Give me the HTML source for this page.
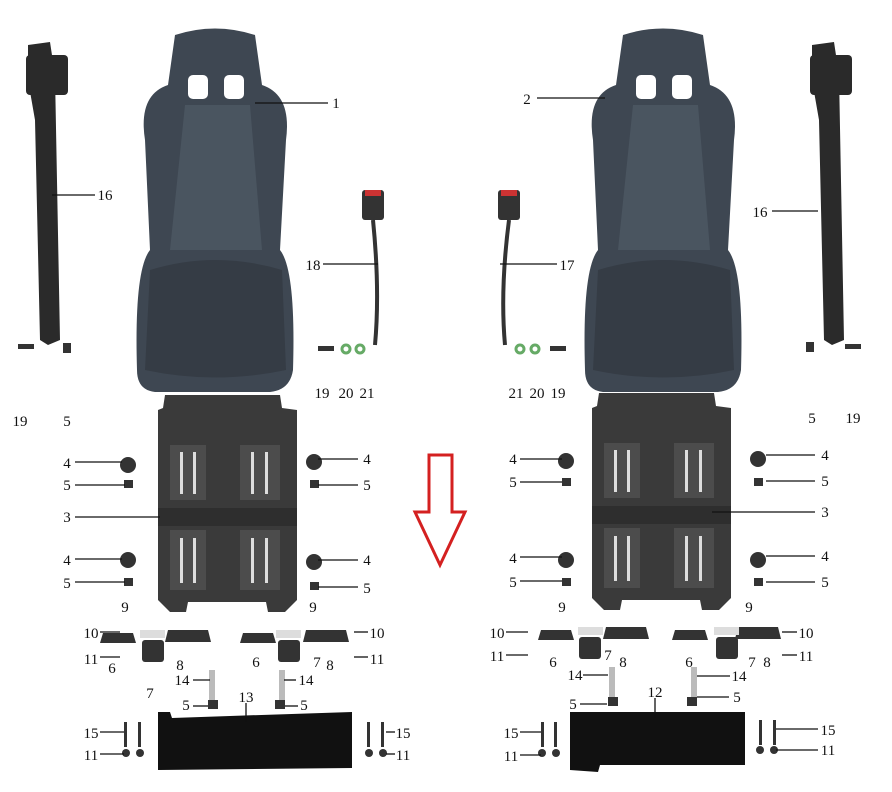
<!DOCTYPE html>
<html><head><meta charset="utf-8"><style>
html,body{margin:0;padding:0;background:#fff;width:892px;height:792px;overflow:hidden}
svg text{font-family:"Liberation Serif",serif;font-size:15px;fill:#111;text-anchor:middle}
</style></head><body>
<svg width="892" height="792" viewBox="0 0 892 792" xmlns="http://www.w3.org/2000/svg">
<defs>
<g id="seat">
<path d="M175,35 Q215,22 255,35 L262,85 Q292,95 286,140 L280,250 Q296,270 293,370 Q290,390 270,392 L155,392 Q137,390 137,370 Q134,270 150,250 L145,140 Q138,95 168,85 Z" fill="#3e4752"/>
<path d="M185,105 L250,105 L262,250 L170,250 Z" fill="#4a5560"/>
<path d="M150,270 Q215,250 282,270 L286,370 Q215,385 145,370 Z" fill="#353c45"/>
<rect x="188" y="75" width="20" height="24" rx="5" fill="#fff"/>
<rect x="224" y="75" width="20" height="24" rx="5" fill="#fff"/>
</g>
<g id="plate">
<path d="M165,395 L280,395 L282,408 L297,410 L297,600 L285,612 L268,612 L266,602 L188,602 L186,612 L170,612 L158,600 L158,410 L163,408 Z" fill="#3a3a3a"/>
<rect x="170" y="445" width="36" height="55" fill="#4c4c4c"/><rect x="180" y="452" width="3" height="42" fill="#ddd"/><rect x="193" y="452" width="3" height="42" fill="#ddd"/>
<rect x="240" y="445" width="40" height="55" fill="#4c4c4c"/><rect x="251" y="452" width="3" height="42" fill="#ddd"/><rect x="265" y="452" width="3" height="42" fill="#ddd"/>
<rect x="170" y="530" width="36" height="60" fill="#4c4c4c"/><rect x="180" y="538" width="3" height="45" fill="#ddd"/><rect x="193" y="538" width="3" height="45" fill="#ddd"/>
<rect x="240" y="530" width="40" height="60" fill="#4c4c4c"/><rect x="251" y="538" width="3" height="45" fill="#ddd"/><rect x="265" y="538" width="3" height="45" fill="#ddd"/>
<rect x="158" y="508" width="139" height="18" fill="#2e2e2e"/>
</g>
<g id="belt">
<path d="M28,45 L50,42 L55,75 L60,340 L48,345 L40,340 L35,120 L28,80 Z" fill="#2a2a2a"/>
<rect x="26" y="55" width="42" height="40" rx="4" fill="#2a2a2a"/>
</g>
</defs>
<use href="#seat"/>
<use href="#seat" transform="translate(448,0)"/>
<use href="#plate"/>
<use href="#plate" transform="translate(434,-2)"/>
<use href="#belt"/>
<use href="#belt" transform="translate(784,0)"/>
<rect x="362" y="190" width="22" height="30" rx="3" fill="#333"/><rect x="365" y="190" width="16" height="6" fill="#c33"/>
<path d="M373,220 Q380,290 375,345" stroke="#333" stroke-width="4" fill="none"/>
<rect x="498" y="190" width="22" height="30" rx="3" fill="#333"/><rect x="501" y="190" width="16" height="6" fill="#c33"/>
<path d="M509,220 Q500,290 505,345" stroke="#333" stroke-width="4" fill="none"/>
<path d="M429,455 L452,455 L452,512 L465,512 L440,565 L415,512 L429,512 Z" fill="none" stroke="#d42020" stroke-width="3"/>
<path d="M158,712 L170,712 L172,718 L230,716 L352,712 L352,768 L158,770 Z" fill="#111"/>
<path d="M570,712 L745,712 L745,765 L600,765 L598,772 L570,770 Z" fill="#111"/>
<g fill="#333">
<circle cx="128" cy="465" r="8"/><circle cx="128" cy="560" r="8"/><circle cx="314" cy="462" r="8"/><circle cx="314" cy="562" r="8"/>
<circle cx="566" cy="461" r="8"/><circle cx="566" cy="560" r="8"/><circle cx="758" cy="459" r="8"/><circle cx="758" cy="560" r="8"/>
<rect x="124" y="480" width="9" height="8"/><rect x="310" y="480" width="9" height="8"/><rect x="562" y="478" width="9" height="8"/><rect x="754" y="478" width="9" height="8"/>
<rect x="124" y="578" width="9" height="8"/><rect x="310" y="582" width="9" height="8"/><rect x="562" y="578" width="9" height="8"/><rect x="754" y="578" width="9" height="8"/>
<path d="M103,633 h30 l3,10 h-36 Z"/><path d="M168,630 h40 l3,12 h-46 Z"/><path d="M243,633 h30 l3,10 h-36 Z"/><path d="M306,630 h40 l3,12 h-46 Z"/>
<path d="M541,630 h30 l3,10 h-36 Z"/><path d="M606,627 h40 l3,12 h-46 Z"/><path d="M675,630 h30 l3,10 h-36 Z"/><path d="M738,627 h40 l3,12 h-46 Z"/>
<rect x="142" y="640" width="22" height="22" rx="3"/><rect x="278" y="640" width="22" height="22" rx="3"/>
<rect x="579" y="637" width="22" height="22" rx="3"/><rect x="716" y="637" width="22" height="22" rx="3"/>
<rect x="208" y="700" width="10" height="9"/><rect x="275" y="700" width="10" height="9"/><rect x="608" y="697" width="10" height="9"/><rect x="687" y="697" width="10" height="9"/>
<rect x="124" y="722" width="3" height="25"/><rect x="138" y="722" width="3" height="25"/><rect x="367" y="722" width="3" height="25"/><rect x="381" y="722" width="3" height="25"/>
<circle cx="126" cy="753" r="4"/><circle cx="140" cy="753" r="4"/><circle cx="369" cy="753" r="4"/><circle cx="383" cy="753" r="4"/>
<rect x="541" y="722" width="3" height="25"/><rect x="554" y="722" width="3" height="25"/><rect x="759" y="720" width="3" height="25"/><rect x="773" y="720" width="3" height="25"/>
<circle cx="542" cy="753" r="4"/><circle cx="556" cy="753" r="4"/><circle cx="760" cy="750" r="4"/><circle cx="774" cy="750" r="4"/>
<rect x="18" y="344" width="16" height="5"/><rect x="63" y="343" width="8" height="10"/><rect x="318" y="346" width="16" height="5"/>
<rect x="806" y="342" width="8" height="10"/><rect x="845" y="344" width="16" height="5"/><rect x="550" y="346" width="16" height="5"/>
</g>
<g fill="none" stroke="#6a6" stroke-width="3"><circle cx="346" cy="349" r="4"/><circle cx="360" cy="349" r="4"/><circle cx="520" cy="349" r="4"/><circle cx="535" cy="349" r="4"/></g>
<g fill="#bbb"><rect x="209" y="670" width="6" height="30"/><rect x="279" y="670" width="6" height="30"/><rect x="609" y="667" width="6" height="30"/><rect x="691" y="667" width="6" height="30"/>
<rect x="140" y="630" width="25" height="8" fill="#ddd"/><rect x="276" y="630" width="25" height="8" fill="#ddd"/><rect x="578" y="627" width="25" height="8" fill="#ddd"/><rect x="714" y="627" width="25" height="8" fill="#ddd"/></g>
<g stroke="#111" stroke-width="1.3">
<line x1="255" y1="103" x2="328" y2="103"/><line x1="52" y1="195" x2="95" y2="195"/><line x1="323" y1="264" x2="378" y2="264"/>
<line x1="75" y1="462" x2="122" y2="462"/><line x1="75" y1="485" x2="125" y2="485"/><line x1="75" y1="517" x2="160" y2="517"/>
<line x1="75" y1="559" x2="122" y2="559"/><line x1="75" y1="582" x2="125" y2="582"/>
<line x1="318" y1="459" x2="358" y2="459"/><line x1="318" y1="485" x2="358" y2="485"/><line x1="318" y1="560" x2="358" y2="560"/><line x1="318" y1="587" x2="358" y2="587"/>
<line x1="100" y1="632" x2="120" y2="632"/><line x1="100" y1="657" x2="120" y2="657"/><line x1="354" y1="632" x2="368" y2="632"/><line x1="354" y1="657" x2="368" y2="657"/>
<line x1="100" y1="732" x2="124" y2="732"/><line x1="100" y1="754" x2="124" y2="754"/><line x1="386" y1="732" x2="395" y2="732"/><line x1="386" y1="754" x2="395" y2="754"/>
<line x1="193" y1="680" x2="210" y2="680"/><line x1="284" y1="680" x2="296" y2="680"/><line x1="193" y1="706" x2="208" y2="706"/><line x1="285" y1="706" x2="298" y2="706"/>
<line x1="246" y1="703" x2="246" y2="722"/>
<line x1="537" y1="98" x2="605" y2="98"/><line x1="772" y1="211" x2="818" y2="211"/><line x1="500" y1="264" x2="557" y2="264"/>
<line x1="520" y1="459" x2="562" y2="459"/><line x1="520" y1="482" x2="562" y2="482"/><line x1="520" y1="557" x2="562" y2="557"/><line x1="520" y1="581" x2="562" y2="581"/>
<line x1="712" y1="512" x2="815" y2="512"/><line x1="766" y1="455" x2="815" y2="455"/><line x1="766" y1="481" x2="815" y2="481"/><line x1="766" y1="556" x2="815" y2="556"/><line x1="766" y1="582" x2="815" y2="582"/>
<line x1="506" y1="632" x2="528" y2="632"/><line x1="506" y1="655" x2="528" y2="655"/><line x1="782" y1="632" x2="797" y2="632"/><line x1="782" y1="655" x2="797" y2="655"/>
<line x1="520" y1="732" x2="541" y2="732"/><line x1="520" y1="755" x2="541" y2="755"/><line x1="776" y1="729" x2="818" y2="729"/><line x1="776" y1="750" x2="818" y2="750"/>
<line x1="583" y1="675" x2="608" y2="675"/><line x1="697" y1="676" x2="730" y2="676"/><line x1="580" y1="704" x2="607" y2="704"/><line x1="697" y1="697" x2="729" y2="697"/>
<line x1="655" y1="698" x2="655" y2="718"/>
</g>
<text x="336" y="108">1</text><text x="105" y="200">16</text><text x="313" y="270">18</text>
<text x="20" y="426">19</text><text x="67" y="426">5</text><text x="322" y="398">19</text><text x="346" y="398">20</text><text x="367" y="398">21</text>
<text x="67" y="468">4</text><text x="67" y="490">5</text><text x="67" y="522">3</text><text x="67" y="565">4</text><text x="67" y="588">5</text>
<text x="367" y="464">4</text><text x="367" y="490">5</text><text x="367" y="565">4</text><text x="367" y="593">5</text>
<text x="125" y="612">9</text><text x="313" y="612">9</text><text x="91" y="638">10</text><text x="91" y="664">11</text>
<text x="112" y="673">6</text><text x="150" y="698">7</text><text x="180" y="670">8</text><text x="256" y="667">6</text><text x="317" y="667">7</text><text x="330" y="670">8</text>
<text x="377" y="638">10</text><text x="377" y="664">11</text><text x="182" y="685">14</text><text x="306" y="685">14</text>
<text x="186" y="710">5</text><text x="304" y="710">5</text><text x="246" y="702">13</text>
<text x="91" y="738">15</text><text x="91" y="760">11</text><text x="403" y="738">15</text><text x="403" y="760">11</text>
<text x="527" y="104">2</text><text x="760" y="217">16</text><text x="567" y="270">17</text>
<text x="516" y="398">21</text><text x="537" y="398">20</text><text x="558" y="398">19</text><text x="812" y="423">5</text><text x="853" y="423">19</text>
<text x="513" y="464">4</text><text x="513" y="487">5</text><text x="825" y="517">3</text><text x="513" y="563">4</text><text x="513" y="587">5</text>
<text x="825" y="460">4</text><text x="825" y="486">5</text><text x="825" y="561">4</text><text x="825" y="587">5</text>
<text x="562" y="612">9</text><text x="749" y="612">9</text><text x="497" y="638">10</text><text x="497" y="661">11</text>
<text x="553" y="667">6</text><text x="608" y="660">7</text><text x="623" y="667">8</text><text x="689" y="667">6</text><text x="752" y="667">7</text><text x="767" y="667">8</text>
<text x="806" y="638">10</text><text x="806" y="661">11</text><text x="575" y="680">14</text><text x="739" y="681">14</text>
<text x="573" y="709">5</text><text x="737" y="702">5</text><text x="655" y="697">12</text>
<text x="511" y="738">15</text><text x="511" y="761">11</text><text x="828" y="735">15</text><text x="828" y="755">11</text>
</svg>
</body></html>
